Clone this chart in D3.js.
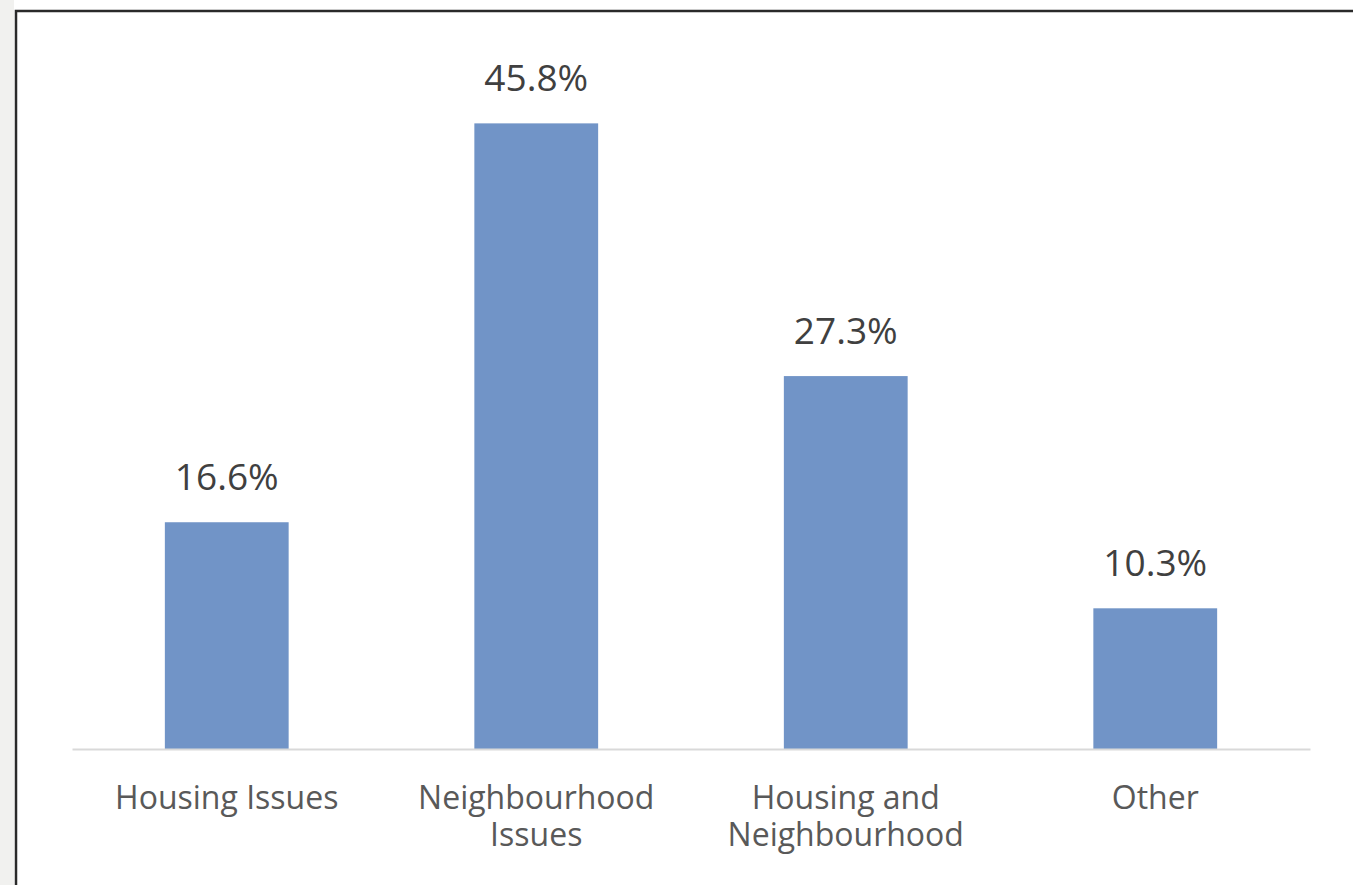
<!DOCTYPE html>
<html>
<head>
<meta charset="utf-8">
<script src="https://cdn.jsdelivr.net/npm/d3@7"></script>
<style>
  body { margin: 0; background: #fff; }
</style>
</head>
<body>
<div id="chart"></div>
<script>
// Chart data
const categories = ["Housing Issues", "Neighbourhood Issues", "Housing and Neighbourhood", "Other"];
const categoryLines = [["Housing Issues"], ["Neighbourhood", "Issues"], ["Housing and", "Neighbourhood"], ["Other"]];
const values = [16.6, 45.8, 27.3, 10.3];

const W = 1353, H = 885;
const svg = d3.select("#chart").append("svg")
    .attr("width", W)
    .attr("height", H);

// Left gray strip and the dark frame
svg.append("rect").attr("x", 0).attr("y", 0).attr("width", 14).attr("height", H).attr("fill", "#f1f1ef");
svg.append("path")
    .attr("d", `M16,${H + 5} L16,11 L${W + 5},11`)
    .attr("fill", "none")
    .attr("stroke", "#2a2a2a")
    .attr("stroke-width", 2.5);

const x = d3.scaleBand()
    .domain(categories)
    .range([72, 1310])
    .paddingInner(0.6)
    .paddingOuter(0.3);

const y = d3.scaleLinear()
    .domain([0, 50])
    .range([749, 66]);

// Bars
svg.selectAll(".bar")
    .data(values)
    .enter().append("rect")
    .attr("class", "bar")
    .attr("x", (d, i) => x(categories[i]))
    .attr("width", x.bandwidth())
    .attr("y", d => y(d))
    .attr("height", d => y(0) - y(d))
    .attr("fill", "#7194c7");

// Baseline axis
const axis = svg.append("g")
    .attr("transform", `translate(0,${y(0)})`)
    .call(d3.axisBottom(x).tickSize(0).tickFormat(""));
axis.select(".domain").attr("stroke", "#d9d9d9").attr("stroke-width", 2);

// Value labels
svg.selectAll(".val")
    .data(values)
    .enter().append("text")
    .attr("class", "val")
    .attr("x", (d, i) => x(categories[i]) + x.bandwidth() / 2)
    .attr("y", d => y(d) - 32)
    .attr("text-anchor", "middle")
    .attr("font-family", "'Open Sans', sans-serif")
    .attr("font-size", 37)
    .attr("fill", "#404040")
    .text(d => d.toFixed(1) + "%");

// Category labels
categoryLines.forEach((lines, i) => {
    const t = svg.append("text")
        .attr("x", x(categories[i]) + x.bandwidth() / 2)
        .attr("y", 809)
        .attr("text-anchor", "middle")
        .attr("font-family", "'Open Sans', sans-serif")
        .attr("font-size", 32)
        .attr("fill", "#595959");
    lines.forEach((l, j) => {
        t.append("tspan")
            .attr("x", x(categories[i]) + x.bandwidth() / 2)
            .attr("dy", j === 0 ? 0 : 37)
            .text(l);
    });
});
</script>
</body>
</html>
